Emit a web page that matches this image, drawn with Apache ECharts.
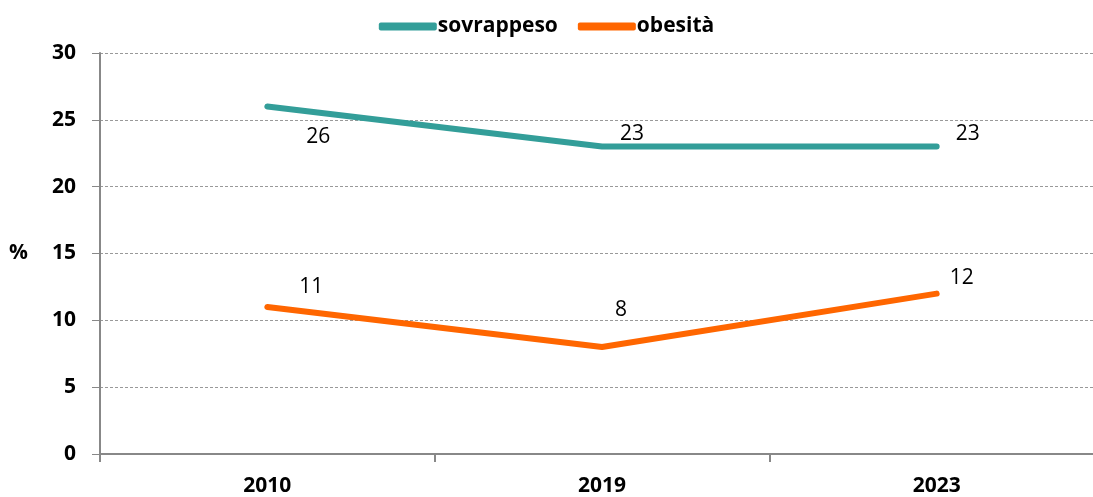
<!DOCTYPE html>
<html>
<head>
<meta charset="utf-8">
<script src="https://cdn.jsdelivr.net/npm/echarts@6/dist/echarts.min.js"></script>
<style>
  html, body { margin: 0; padding: 0; background: #fff; }
  #chart { width: 1093px; height: 497px; }
</style>
</head>
<body>
<div id="chart"></div>
<script>
// dati
var anni = ['2010', '2019', '2023'];
var sovrappeso = [26, 23, 23];
var obesita = [11, 8, 12];
var yTicks = [0, 5, 10, 15, 20, 25, 30];

// spostamento etichette (px)
var offSovr = [[51, 31], [30, -13], [31, -13]];
var offObes = [[44, -20], [19, -37], [25, -16]];

var font = '"Open Sans", "Liberation Sans", sans-serif';

function conEtichette(vals, offs) {
  return vals.map(function (v, i) {
    return { value: v, label: { offset: offs[i] } };
  });
}

var myChart = echarts.init(document.getElementById('chart'));
myChart.setOption({
  animation: false,
  color: ['#339E99', '#FF6600'],
  legend: {
    top: 11,
    left: 'center',
    itemWidth: 58,
    itemHeight: 8,
    itemGap: 20,
    icon: 'roundRect',
    textStyle: { fontFamily: font, fontSize: 21, fontWeight: 'bold', color: '#000', padding: [0, 0, 0, -4] },
    data: ['sovrappeso', 'obesità']
  },
  grid: { left: 100, right: -11, top: 53, bottom: 43, outerBoundsMode: 'none', containLabel: false },
  xAxis: {
    type: 'category',
    data: anni,
    boundaryGap: true,
    axisLine: { lineStyle: { color: '#888', width: 2 } },
    axisTick: { show: true, length: 8, lineStyle: { color: '#888', width: 2 } },
    axisLabel: { fontFamily: font, fontSize: 21, fontWeight: 'bold', color: '#000', margin: 22 }
  },
  yAxis: {
    type: 'value',
    min: yTicks[0],
    max: yTicks[yTicks.length - 1],
    interval: 5,
    name: '%',
    nameLocation: 'middle',
    nameRotate: 0,
    nameGap: 72,
    nameTextStyle: { fontFamily: font, fontSize: 21, fontWeight: 'bold', color: '#000' },
    axisLine: { show: true, lineStyle: { color: '#888', width: 2 } },
    axisTick: { show: true, length: 8, lineStyle: { color: '#888', width: 1 } },
    axisLabel: { fontFamily: font, fontSize: 21, fontWeight: 'bold', color: '#000', margin: 24 },
    splitLine: { lineStyle: { color: '#999', type: [3, 2], width: 1 } }
  },
  series: [
    {
      name: 'sovrappeso',
      type: 'line',
      data: conEtichette(sovrappeso, offSovr),
      symbol: 'circle',
      symbolSize: 0,
      lineStyle: { width: 6, cap: 'round', join: 'round' },
      label: { show: true, position: 'inside', fontFamily: font, fontSize: 21, color: '#000' }
    },
    {
      name: 'obesità',
      type: 'line',
      data: conEtichette(obesita, offObes),
      symbol: 'circle',
      symbolSize: 0,
      lineStyle: { width: 6, cap: 'round', join: 'round' },
      label: { show: true, position: 'inside', fontFamily: font, fontSize: 21, color: '#000' }
    }
  ]
});
</script>
</body>
</html>
